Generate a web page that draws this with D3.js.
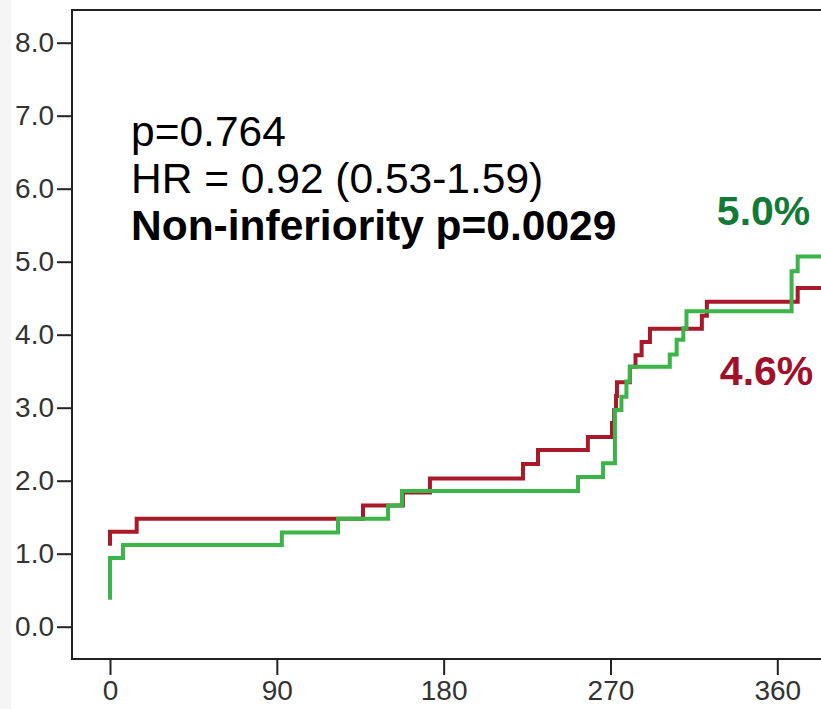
<!DOCTYPE html>
<html>
<head>
<meta charset="utf-8">
<script src="https://cdn.jsdelivr.net/npm/d3@7"></script>
<style>
  html, body { margin: 0; padding: 0; background: #ffffff; }
  svg { display: block; font-family: "Liberation Sans", Arial, sans-serif; }
</style>
</head>
<body>
<svg id="chart" width="821" height="709"></svg>
<script>
// Cumulative incidence (%) by follow-up day, step curves for the two arms
const redDays  = [0, 0, 14.4, 136.5, 158, 172.6, 222.8, 230.9, 257.8, 270.8, 272, 273, 273.5, 280.5, 283.5, 286.8, 291.3, 319.3, 322, 371, 400];
const redPct   = [1.11, 1.30, 1.48, 1.66, 1.84, 2.03, 2.23, 2.42, 2.60, 2.79, 2.97, 3.16, 3.35, 3.56, 3.72, 3.90, 4.08, 4.26, 4.45, 4.64, 4.64];

const greenDays = [0, 0, 7.0, 92.7, 123, 150, 157.5, 252.5, 266, 272.4, 275.9, 278.6, 280.4, 302, 305.7, 309.3, 311, 367.7, 371, 400];
const greenPct  = [0.37, 0.94, 1.12, 1.29, 1.48, 1.66, 1.86, 2.05, 2.24, 2.97, 3.15, 3.36, 3.56, 3.73, 3.93, 4.09, 4.32, 4.87, 5.07, 5.07];

const yTicks = [0, 1, 2, 3, 4, 5, 6, 7, 8];
const xTicks = [0, 90, 180, 270, 360];

const statLines = ["p=0.764", "HR = 0.92 (0.53-1.59)", "Non-inferiority p=0.0029"];
const endLabels = [
  { text: "5.0%", day: 327.4, pct: 5.5, color: "#137a36" },
  { text: "4.6%", day: 329.0, pct: 3.31, color: "#a0102a" }
];

const svg = d3.select("#chart");

// faint strip at the far left edge
svg.append("rect").attr("x", 0).attr("y", 0).attr("width", 11).attr("height", 709).attr("fill", "#f5f5f5");

const frame = { left: 72, top: 10, bottom: 659, right: 860 };

const x = d3.scaleLinear().domain([0, 360]).range([110, 777.3]);
const y = d3.scaleLinear().domain([0, 8]).range([626.7, 42.7]);

// plot frame
svg.append("path")
  .attr("d", `M${frame.right},${frame.top}H${frame.left}V${frame.bottom}H${frame.right}`)
  .attr("fill", "none").attr("stroke", "#222").attr("stroke-width", 2);

// y axis ticks + labels
const yAxis = d3.axisLeft(y).tickValues(yTicks).tickSize(15).tickPadding(3).tickFormat(d3.format(".1f"));
const gy = svg.append("g").attr("transform", `translate(${frame.left},0)`).call(yAxis);
gy.select(".domain").remove();
gy.selectAll(".tick line").attr("stroke", "#222").attr("stroke-width", 2);
gy.selectAll(".tick text").attr("font-size", 28).attr("fill", "#333")
  .attr("font-family", "Liberation Sans, Arial, sans-serif");

// x axis ticks + labels
const xAxis = d3.axisBottom(x).tickValues(xTicks).tickSize(16).tickPadding(5).tickFormat(d3.format("d"));
const gx = svg.append("g").attr("transform", `translate(0,${frame.bottom})`).call(xAxis);
gx.select(".domain").remove();
gx.selectAll(".tick line").attr("stroke", "#222").attr("stroke-width", 2);
gx.selectAll(".tick text").attr("font-size", 28).attr("fill", "#333")
  .attr("font-family", "Liberation Sans, Arial, sans-serif");

// step curves
const line = d3.line().x(d => x(d[0])).y(d => y(d[1])).curve(d3.curveStepAfter);
const redData = redDays.map((d, i) => [d, redPct[i]]);
const greenData = greenDays.map((d, i) => [d, greenPct[i]]);

svg.append("path").datum(redData).attr("d", line)
  .attr("fill", "none").attr("stroke", "#a8192a").attr("stroke-width", 4)
  .attr("stroke-linejoin", "miter").attr("stroke-linecap", "butt");
svg.append("path").datum(greenData).attr("d", line)
  .attr("fill", "none").attr("stroke", "#3bb54a").attr("stroke-width", 4)
  .attr("stroke-linejoin", "miter").attr("stroke-linecap", "butt");

// statistics block
const stats = svg.append("g");
statLines.forEach((t, i) => {
  stats.append("text")
    .attr("x", 131).attr("y", 146 + i * 47)
    .attr("font-size", 42.5)
    .attr("font-weight", i === 2 ? "bold" : "normal")
    .attr("fill", "#000")
    .text(t);
});

// end-of-curve percentages
svg.selectAll(".endlabel").data(endLabels).enter().append("text")
  .attr("class", "endlabel")
  .attr("x", d => x(d.day)).attr("y", d => y(d.pct))
  .attr("font-size", 41).attr("font-weight", "bold")
  .attr("fill", d => d.color)
  .text(d => d.text);
</script>
</body>
</html>
